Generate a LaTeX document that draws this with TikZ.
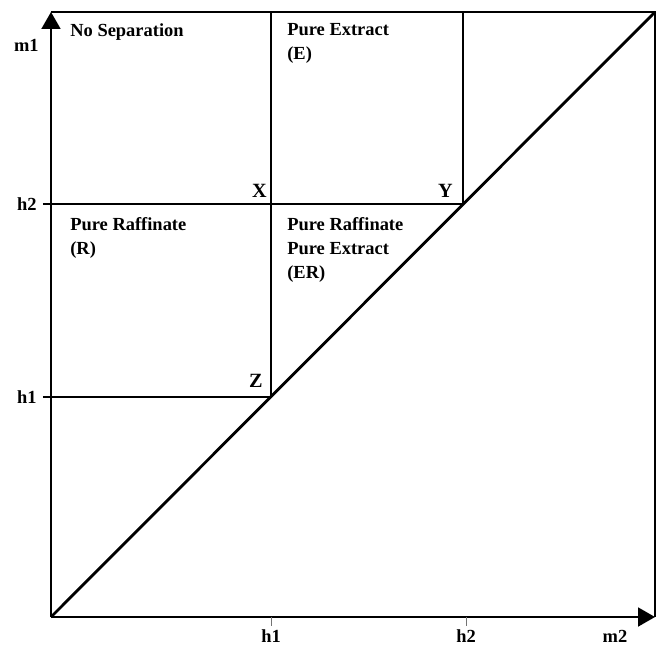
\documentclass[tikz,border=0pt]{standalone}
\usepackage{fontspec}
\setmainfont{Liberation Serif}
\usetikzlibrary{arrows.meta}

\begin{document}
\begin{tikzpicture}[
    lbl/.style={font=\fontsize{10.5}{13.5}\selectfont\bfseries, inner sep=0pt, align=left},
    axis/.style={line width=1.1pt, -{Triangle[length=3.4mm, width=3.8mm]}},
    ln/.style={line width=0.85pt},
    diag/.style={line width=1.6pt},
    tickln/.style={line width=0.5pt, black!55}]
\useasboundingbox (-1.02,-0.58) rectangle (12.26,12.34);
% points of the plot
\coordinate (O) at (0,0);
\coordinate (xend) at (12.08,0);
\coordinate (yend) at (0,12.1);
\coordinate (TR) at (12.08,12.1);
\coordinate (Z) at (4.4,4.4);
\coordinate (X) at (4.4,8.26);
\coordinate (Y) at (8.24,8.26);
\coordinate (Xtop) at (4.4,12.1);
\coordinate (Ytop) at (8.24,12.1);
\coordinate (lh1) at (-0.16,4.4);
\coordinate (lh2) at (-0.16,8.26);
\coordinate (bh1) at (4.4,-0.18);
\coordinate (bh2) at (8.3,-0.18);
\coordinate (th2) at (8.3,0);
% frame and axes
\draw[axis] (O) -- (xend);
\draw[axis] (O) -- (yend);
\draw[ln] (yend) -- (TR) -- (xend);
\draw[diag] (O) -- (TR);
% region borders
\draw[ln] (lh2) -- (Y) -- (Ytop);
\draw[ln] (lh1) -- (Z) -- (Xtop);
\draw[tickln] (Z |- O) -- (bh1);
\draw[tickln] (th2) -- (bh2);
% regions
\node[lbl, anchor=base west] (nosep) at (0.38,11.6) {No Separation};
\node[lbl, anchor=north west] (pe) at (4.72,11.87) {Pure Extract\\(E)};
\node[lbl, anchor=north west] (pr) at (0.38,7.99) {Pure Raffinate\\(R)};
\node[lbl, anchor=north west] (pre) at (4.72,7.99) {Pure Raffinate\\Pure Extract\\(ER)};
\node[lbl, font=\fontsize{11.5}{13.5}\selectfont\bfseries, anchor=base east] (xl) at (4.32,8.4) {X};
\node[lbl, font=\fontsize{11.5}{13.5}\selectfont\bfseries, anchor=base east] (yl) at (8.04,8.4) {Y};
\node[lbl, font=\fontsize{11.5}{13.5}\selectfont\bfseries, anchor=base east] (zl) at (4.24,4.6) {Z};
% axis labels
\node[lbl, anchor=base east] (m1) at (-0.24,11.3) {m1};
\node[lbl, anchor=east] (yh2) at (-0.28,8.26) {h2};
\node[lbl, anchor=east] (yh1) at (-0.28,4.4) {h1};
\node[lbl, anchor=base] (xh1) at (4.4,-0.5) {h1};
\node[lbl, anchor=base] (xh2) at (8.3,-0.5) {h2};
\node[lbl, anchor=base] (m2) at (11.28,-0.5) {m2};
\end{tikzpicture}
\end{document}
